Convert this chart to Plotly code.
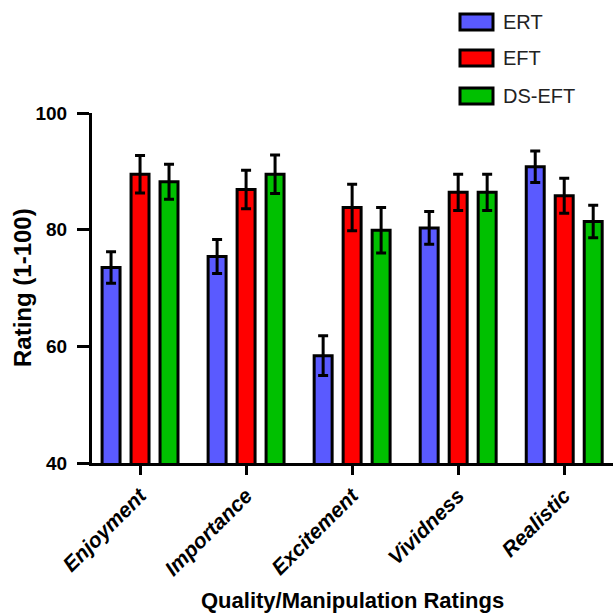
import plotly.graph_objects as go

categories = ["Enjoyment", "Importance", "Excitement", "Vividness", "Realistic"]
series_names = ["ERT", "EFT", "DS-EFT"]
ert = [73.5, 75.4, 58.4, 80.3, 90.8]
ert_err = [2.7, 2.9, 3.4, 2.8, 2.7]
eft = [89.5, 86.9, 83.8, 86.4, 85.8]
eft_err = [3.2, 3.3, 4.0, 3.1, 3.0]
dseft = [88.2, 89.5, 79.9, 86.4, 81.4]
dseft_err = [3.0, 3.3, 3.9, 3.1, 2.8]
y_ticks = [40, 60, 80, 100]

colors = ["#5A5AFF", "#FF0000", "#00C000"]
FONT = "Liberation Sans, Arial, sans-serif"

fig = go.Figure()
for name, vals, errs, col in zip(series_names, [ert, eft, dseft], [ert_err, eft_err, dseft_err], colors):
    fig.add_trace(go.Bar(
        x=list(range(len(categories))), y=vals, name=name,
        marker=dict(color=col, line=dict(color="black", width=3)),
        error_y=dict(type="data", array=errs, visible=True, color="black", thickness=3, width=5),
        showlegend=False,
    ))

fig.update_layout(
    width=613, height=614,
    margin=dict(l=92, r=0, t=113, b=151, autoexpand=False),
    paper_bgcolor="white", plot_bgcolor="white",
    barmode="group", bargap=0.18, bargroupgap=0.38,
    font=dict(family=FONT, color="black"),
    xaxis=dict(
        range=[-0.453, 4.46], tickmode="array", tickvals=list(range(len(categories))),
        ticktext=[f"<b><i>{c}</i></b>" for c in categories],
        tickangle=-45, tickfont=dict(size=21, family=FONT, color="black"),
        ticks="outside", ticklen=9, tickwidth=3, tickcolor="black",
        showline=True, linecolor="black", linewidth=3, showgrid=False, zeroline=False,
    ),
    yaxis=dict(
        range=[40, 100], tickmode="array", tickvals=y_ticks,
        ticktext=[f"<b>{t}</b>" for t in y_ticks],
        tickfont=dict(size=19, family=FONT, color="black"),
        ticks="outside", ticklen=12, tickwidth=3, tickcolor="black", ticklabelstandoff=6,
        showline=True, linecolor="black", linewidth=3, showgrid=False, zeroline=False,
    ),
)

# Axis titles
fig.add_annotation(text="<b>Rating (1-100)</b>", xref="paper", yref="paper", x=0, y=0.5,
                   xshift=-70, textangle=-90, showarrow=False,
                   font=dict(size=24, family=FONT, color="black"), xanchor="center", yanchor="middle")
fig.add_annotation(text="<b>Quality/Manipulation Ratings</b>", xref="paper", yref="paper", x=0.5, y=0,
                   yshift=-137, showarrow=False,
                   font=dict(size=22, family=FONT, color="black"), xanchor="center", yanchor="middle")

# Custom legend (top right)
leg_y = [22, 58, 96]
for name, col, yc in zip(series_names, colors, leg_y):
    fig.add_shape(type="rect", xref="paper", yref="paper",
                  x0=(460 - 92) / 521, x1=(493 - 92) / 521,
                  y0=(463 - (yc + 8)) / 350, y1=(463 - (yc - 8)) / 350,
                  fillcolor=col, line=dict(color="black", width=3))
    fig.add_annotation(text=name, xref="paper", yref="paper",
                       x=(501 - 92) / 521, y=(463 - yc) / 350, showarrow=False,
                       xanchor="left", yanchor="middle",
                       font=dict(size=20, family=FONT, color="#222"))

fig.write_html("out.html", config={"displayModeBar": False},
               post_script="document.body.style.margin='0';document.body.style.overflow='hidden';")
